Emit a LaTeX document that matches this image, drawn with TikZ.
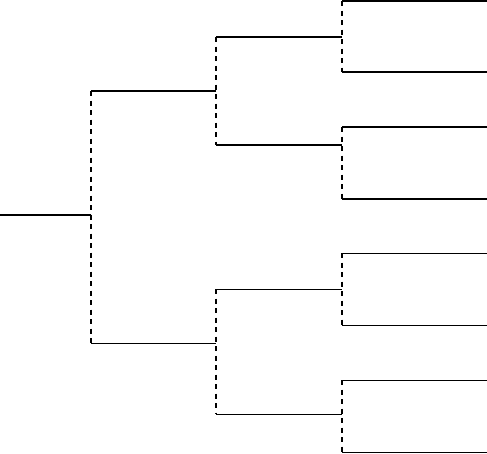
\documentclass[tikz,border=0pt]{standalone}
\usepackage{tikz}
\usetikzlibrary{calc}
\tikzset{heavy/.style={line width=1.8pt},
  light/.style={line width=1pt},
  fork/.style={line width=1.8pt,dash pattern=on 5pt off 4.5pt}}

\begin{document}
\begin{tikzpicture}[x=1pt,y=-1pt]
\useasboundingbox (0,0) rectangle (487,453);
% root and first split
\coordinate (root) at (0,215); \coordinate (s0) at (91,215);
\coordinate (up) at (91,91); \coordinate (dn) at (91,343);
\draw[heavy] (root)--(s0);
\draw[fork] (up)--(dn);
% second level
\coordinate (upE) at (216,91); \coordinate (dnE) at (216,343);
\draw[heavy] (up)--(upE);
\draw[light] (dn)--(dnE);
\coordinate (uA) at (216,37); \coordinate (uB) at (216,145);
\coordinate (dA) at (216,289); \coordinate (dB) at (216,414);
\draw[fork] (uA)--(uB);
\draw[fork] (dA)--(dB);
% third level
\foreach \n/\y in {uA/37,uB/145}{\draw[heavy] (\n)--(342,\y) coordinate (\n E);}
\foreach \n/\y in {dA/289,dB/414}{\draw[light] (\n)--(342,\y) coordinate (\n E);}
% leaves
\foreach \n/\a/\b/\w in {uA/1/72/heavy,uB/127/199/heavy,dA/253/325/light,dB/380/452/light}{
  \coordinate (\n1) at (342,\a); \coordinate (\n2) at (342,\b);
  \draw[fork] (\n1)--(\n2);
  \draw[\w] (\n1)--(487,\a);
  \draw[\w] (\n2)--(487,\b);
}
\end{tikzpicture}
\end{document}
